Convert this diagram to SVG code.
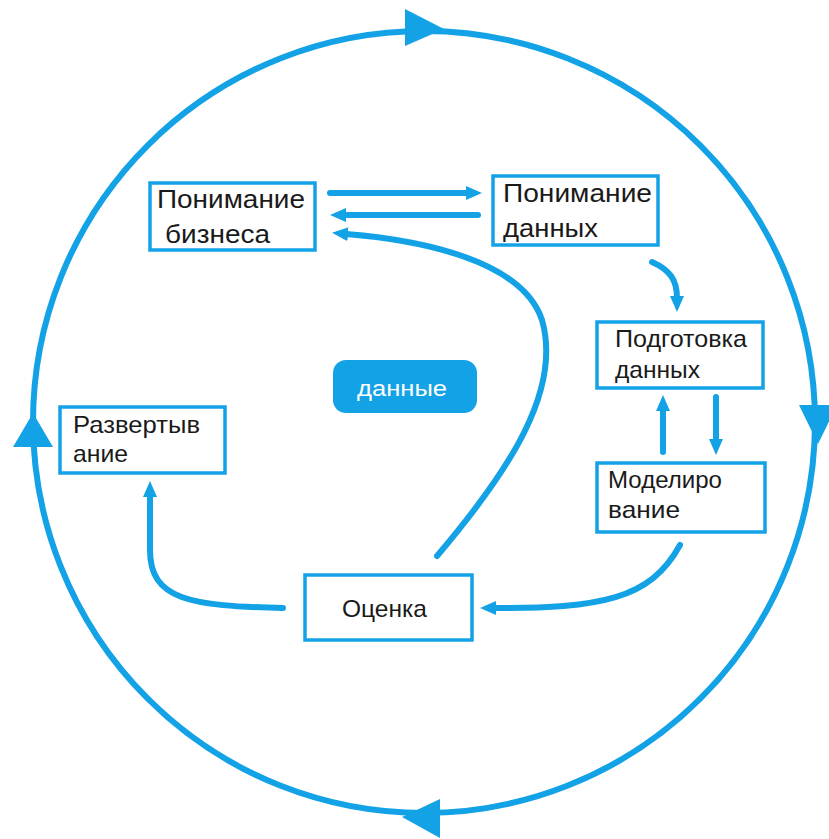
<svg xmlns="http://www.w3.org/2000/svg" width="829" height="839" viewBox="0 0 829 839">
<defs>
<style>
.box{fill:#fff;stroke:#13A2E6;stroke-width:3.5}
.t{font-family:"Liberation Sans",Arial,sans-serif;font-size:26px;fill:#1a1a1a}
.ts{font-family:"Liberation Sans",Arial,sans-serif;font-size:24px;fill:#1a1a1a}
.c{fill:none;stroke:#13A2E6;stroke-width:6;stroke-linecap:round}
.ring{fill:none;stroke:#13A2E6;stroke-width:6}
.head{fill:#13A2E6}
</style>
<marker id="ah" markerUnits="userSpaceOnUse" markerWidth="16" markerHeight="14" refX="2" refY="7" orient="auto">
<path d="M0,0 L16,7 L0,14 z" fill="#13A2E6"/>
</marker>
</defs>
<rect width="829" height="839" fill="#fff"/>
<g id="cycle">
<circle class="ring" cx="424" cy="422" r="391"/>
<polygon class="head" points="405,9 405,46 444,29"/>
<polygon class="head" points="799,405 837,405 818,444"/>
<polygon class="head" points="440,799 440,838 402,817"/>
<polygon class="head" points="13,447 53,447 33,413"/>
</g>
<g id="connectors">
<path class="c" d="M330,193 L468,193" marker-end="url(#ah)"/>
<path class="c" d="M478,215 L344,215" marker-end="url(#ah)"/>
<path class="c" d="M437,556 C510,470 562,390 542,320 C522,260 420,240 346,234" marker-end="url(#ah)"/>
<path class="c" d="M652,262 C670,270 677,280 677,298" marker-end="url(#ah)"/>
<path class="c" d="M663,452 L663,409" marker-end="url(#ah)"/>
<path class="c" d="M716,397 L716,441" marker-end="url(#ah)"/>
<path class="c" d="M680,545 C650,600 600,608 494,608" marker-end="url(#ah)"/>
<path class="c" d="M283,608 C190,606 150,600 150,550 L150,495" marker-end="url(#ah)"/>
</g>
<g id="business">
<rect class="box" x="150" y="183" width="165" height="67"/>
<text class="t" x="157" y="208" textLength="148" lengthAdjust="spacingAndGlyphs">Понимание</text>
<text class="t" x="165" y="243" textLength="105" lengthAdjust="spacingAndGlyphs">бизнеса</text>
</g>
<g id="data-understanding">
<rect class="box" x="493" y="176" width="165" height="69"/>
<text class="t" x="503" y="202" textLength="149" lengthAdjust="spacingAndGlyphs">Понимание</text>
<text class="t" x="503" y="237" textLength="95" lengthAdjust="spacingAndGlyphs">данных</text>
</g>
<g id="data-preparation">
<rect class="box" x="597" y="322" width="166" height="66"/>
<text class="ts" x="615" y="347" textLength="132" lengthAdjust="spacingAndGlyphs">Подготовка</text>
<text class="ts" x="615" y="378" textLength="85" lengthAdjust="spacingAndGlyphs">данных</text>
</g>
<g id="modeling">
<rect class="box" x="597" y="463" width="168" height="69"/>
<text class="ts" x="608" y="488" textLength="114" lengthAdjust="spacingAndGlyphs">Моделиро</text>
<text class="ts" x="608" y="518" textLength="72" lengthAdjust="spacingAndGlyphs">вание</text>
</g>
<g id="evaluation">
<rect class="box" x="305" y="575" width="167" height="65"/>
<text class="ts" x="342" y="617" textLength="85" lengthAdjust="spacingAndGlyphs">Оценка</text>
</g>
<g id="deployment">
<rect class="box" x="60" y="407" width="165" height="66"/>
<text class="ts" x="73" y="433" textLength="127" lengthAdjust="spacingAndGlyphs">Развертыв</text>
<text class="ts" x="73" y="462" textLength="55" lengthAdjust="spacingAndGlyphs">ание</text>
</g>
<g id="data">
<rect x="333" y="360" width="144" height="53" rx="13" fill="#13A2E6"/>
<text x="402" y="396" text-anchor="middle" font-family="'Liberation Sans',Arial,sans-serif" font-size="22" fill="#fff" textLength="90" lengthAdjust="spacingAndGlyphs">данные</text>
</g>
</svg>
